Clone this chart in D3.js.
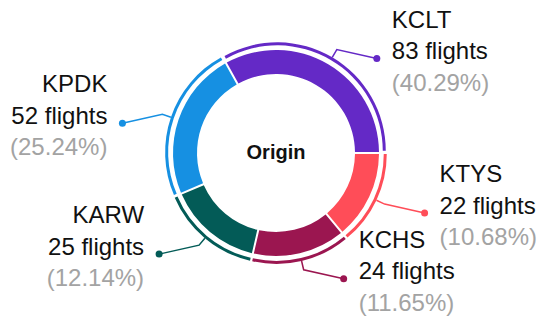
<!DOCTYPE html>
<html>
<head>
<meta charset="utf-8">
<script src="https://cdn.jsdelivr.net/npm/d3@7"></script>
<style>
  html, body { margin: 0; padding: 0; background: #fff; }
  svg text { font-family: "Liberation Sans", Arial, Helvetica, sans-serif; }
</style>
</head>
<body>
<svg id="chart" width="541" height="320"></svg>
<script>
// Flights by origin airport
const airports = ["KCLT", "KTYS", "KCHS", "KARW", "KPDK"];
const flights  = [83, 22, 24, 25, 52];
const percents = ["40.29%", "10.68%", "11.65%", "12.14%", "25.24%"];
const colors   = ["#6429c6", "#ff4d58", "#9b1650", "#035b57", "#1690e2"];
const centerTitle = "Origin";

const W = 541, H = 320;
const cx = 276, cy = 153;
const rInner = 79, rOuter = 103;      // main ring
const rRimIn = 105.5, rRimOut = 108.5; // thin outer rim
const rimShift = 2.5;                  // rim pushed outward along slice middle
const rElbow = 120;

// each slice gets a fixed floor added to its share of the circle
const floorShare = 22.7;

const data = airports.map((a, i) => ({ airport: a, flights: flights[i], pct: percents[i], color: colors[i] }));

const deg = Math.PI / 180;
const pie = d3.pie()
  .sort(null)
  .value(d => d.flights + floorShare)
  .startAngle(-29.1 * deg)
  .endAngle(330.9 * deg);

const arcs = pie(data);

const svg = d3.select("#chart");
const g = svg.append("g").attr("transform", `translate(${cx},${cy})`);

const ring = d3.arc()
  .innerRadius(rInner)
  .outerRadius(rOuter)
  .padAngle(0.02)
  .padRadius(100);

const rim = d3.arc()
  .innerRadius(rRimIn)
  .outerRadius(rRimOut);

const mid = d => (d.startAngle + d.endAngle) / 2;
const polar = (r, a) => [r * Math.sin(a), -r * Math.cos(a)];

g.selectAll("path.slice")
  .data(arcs)
  .join("path")
  .attr("class", "slice")
  .attr("d", ring)
  .attr("fill", d => d.data.color);

g.selectAll("path.rim")
  .data(arcs)
  .join("path")
  .attr("class", "rim")
  .attr("d", rim)
  .attr("fill", d => d.data.color)
  .attr("transform", d => {
    const [dx, dy] = polar(rimShift, mid(d));
    return `translate(${dx},${dy})`;
  });

// leader lines with dot ends
const labelPts = arcs.map(d => {
  const a = mid(d);
  const right = Math.sin(a) > 0;
  const [sx0, sy0] = polar(rRimOut, a);
  const [ox, oy] = polar(rimShift, a);
  const start = [sx0 + ox, sy0 + oy];
  const elbow = polar(rElbow, a);
  const dot = [elbow[0] + (right ? 40 : -40), elbow[1] + 9];
  return { d, right, start, elbow, dot };
});

g.selectAll("polyline.leader")
  .data(labelPts)
  .join("polyline")
  .attr("class", "leader")
  .attr("points", p => [p.start, p.elbow, p.dot].map(q => q.join(",")).join(" "))
  .attr("fill", "none")
  .attr("stroke", p => p.d.data.color)
  .attr("stroke-width", 1.5);

g.selectAll("circle.dot")
  .data(labelPts)
  .join("circle")
  .attr("class", "dot")
  .attr("cx", p => p.dot[0])
  .attr("cy", p => p.dot[1])
  .attr("r", 3.5)
  .attr("fill", p => p.d.data.color);

const labels = g.selectAll("text.label")
  .data(labelPts)
  .join("text")
  .attr("class", "label")
  .attr("font-size", 24)
  .attr("text-anchor", p => p.right ? "start" : "end")
  .attr("transform", p => `translate(${p.dot[0] + (p.right ? 15 : -15)},${p.dot[1] + 0.5})`);

labels.append("tspan").attr("x", 0).attr("y", -31.5).attr("fill", "#111").text(p => p.d.data.airport);
labels.append("tspan").attr("x", 0).attr("y", 0).attr("fill", "#111").text(p => `${p.d.data.flights} flights`);
labels.append("tspan").attr("x", 0).attr("y", 31.5).attr("fill", "#a3a3a3").text(p => `(${p.d.data.pct})`);

g.append("text")
  .attr("text-anchor", "middle")
  .attr("y", 5.5)
  .attr("font-size", 20)
  .attr("font-weight", "bold")
  .attr("fill", "#111")
  .text(centerTitle);
</script>
</body>
</html>
